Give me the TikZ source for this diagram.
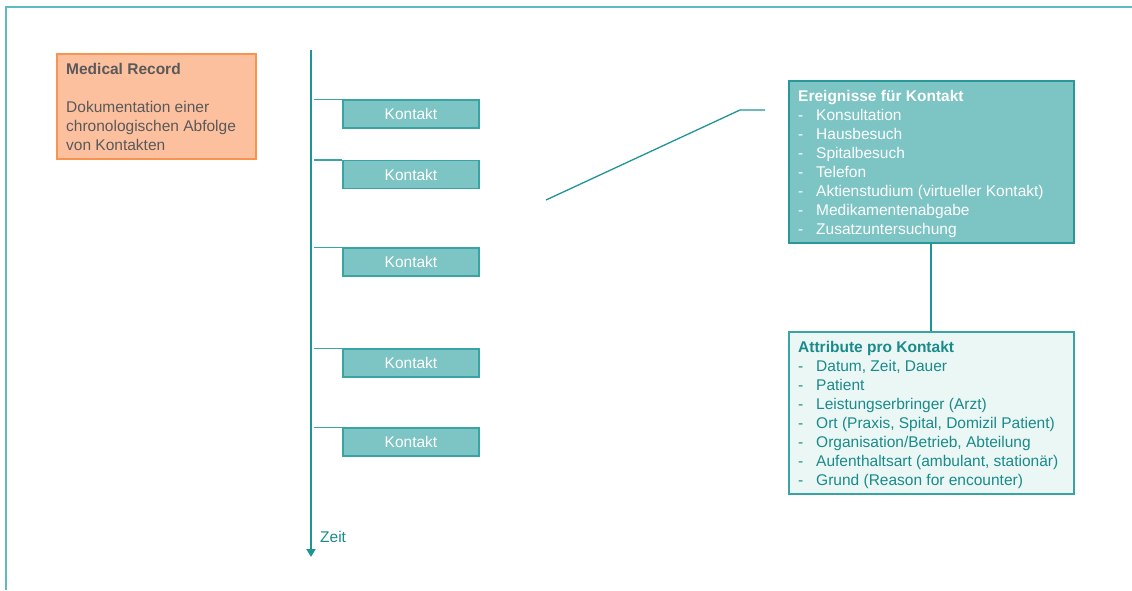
\documentclass[tikz,border=0pt]{standalone}
\usepackage{fontspec}
\setmainfont{Liberation Sans}
\usetikzlibrary{arrows.meta}
\definecolor{frameteal}{HTML}{5DBDBE}
\definecolor{lineteal}{HTML}{1F9496}
\definecolor{boxteal}{HTML}{7DC4C5}
\definecolor{boxedge}{HTML}{3AA3A4}
\definecolor{darkedge}{HTML}{2A9798}
\definecolor{paleteal}{HTML}{EBF7F5}
\definecolor{textteal}{HTML}{1A8A8A}
\definecolor{peach}{HTML}{FDC09F}
\definecolor{peachedge}{HTML}{F8944F}
\definecolor{greytext}{HTML}{595959}
\tikzset{
  x=1pt, y=-1pt,
  txt/.style={font=\fontsize{15.5}{19}\selectfont},
  kbox/.style={txt, draw=boxedge, line width=1.5pt, fill=boxteal, text=white,
    minimum width=136pt, minimum height=28pt, inner sep=0pt},
  tick/.style={draw=boxedge, line width=1.5pt},
  link/.style={draw=lineteal, line width=1.3pt},
  infobox/.style={line width=1.8pt, minimum width=285pt, minimum height=162pt,
    inner sep=0pt, anchor=north west},
  infotext/.style={txt, align=left, anchor=west, inner sep=0pt},
}
\newcommand{\itm}[1]{\makebox[18pt][l]{-}#1}
\begin{document}
\begin{tikzpicture}
\useasboundingbox (0,0) rectangle (1132,590);
% frame edges
\draw[frameteal, line width=1.5pt] (6,590) -- (6,7) -- (1132,7);

% record description
\node[draw=peachedge, line width=1.5pt, fill=peach, minimum width=199pt,
  minimum height=105pt, inner sep=0pt, anchor=north west] (record) at (56,53) {};
\node[infotext, text=greytext] (recordtext) at ([xshift=10pt,yshift=-1pt]record.west)
  {\textbf{Medical Record}\\[19pt]Dokumentation einer\\chronologischen Abfolge\\von Kontakten};

% time axis
\coordinate (ttop) at (311,50);
\coordinate (tbot) at (311,557);
\draw[lineteal, line width=2.6pt, -{Triangle[width=9pt,length=8pt]}] (ttop) -- (tbot);
\node[txt, text=textteal, anchor=west, inner sep=0pt] (zeit) at (320,537) {Zeit};

% contacts along the axis
\node[kbox] (k1) at (411,114) {\raisebox{-1pt}{Kontakt}};
\node[kbox] (k2) at (411,174.5) {\raisebox{-1pt}{Kontakt}};
\node[kbox] (k3) at (411,262) {\raisebox{-1pt}{Kontakt}};
\node[kbox] (k4) at (411,363) {\raisebox{-1pt}{Kontakt}};
\node[kbox] (k5) at (411,442) {\raisebox{-1pt}{Kontakt}};
\foreach \k in {k1,k2,k3,k4,k5}
  \draw[tick] ([xshift=3pt]\k.north west -| ttop) -- (\k.north west);

% events box
\node[infobox, draw=darkedge, fill=boxteal] (events) at (788,80) {};
\node[infotext, text=white] (eventstext) at ([xshift=10pt,yshift=-2pt]events.west)
  {\textbf{Ereignisse für Kontakt}\\
   \itm{Konsultation}\\
   \itm{Hausbesuch}\\
   \itm{Spitalbesuch}\\
   \itm{Telefon}\\
   \itm{Aktienstudium (virtueller Kontakt)}\\
   \itm{Medikamentenabgabe}\\
   \itm{Zusatzuntersuchung}};

% attributes box
\node[infobox, draw=boxedge, fill=paleteal] (attrs) at (788,331) {};
\node[infotext, text=textteal] (attrstext) at ([xshift=10pt,yshift=-2pt]attrs.west)
  {\textbf{Attribute pro Kontakt}\\
   \itm{Datum, Zeit, Dauer}\\
   \itm{Patient}\\
   \itm{Leistungserbringer (Arzt)}\\
   \itm{Ort (Praxis, Spital, Domizil Patient)}\\
   \itm{Organisation/Betrieb, Abteilung}\\
   \itm{Aufenthaltsart (ambulant, stationär)}\\
   \itm{Grund (Reason for encounter)}};

\draw[link] (events.south -| 931,0) -- (attrs.north -| 931,0);

% pointer towards the events box
\coordinate (pa) at (546,200);
\coordinate (pb) at (740,110);
\coordinate (pc) at (765,110);
\draw[link] (pa) -- (pb) -- (pc);
\end{tikzpicture}
\end{document}
